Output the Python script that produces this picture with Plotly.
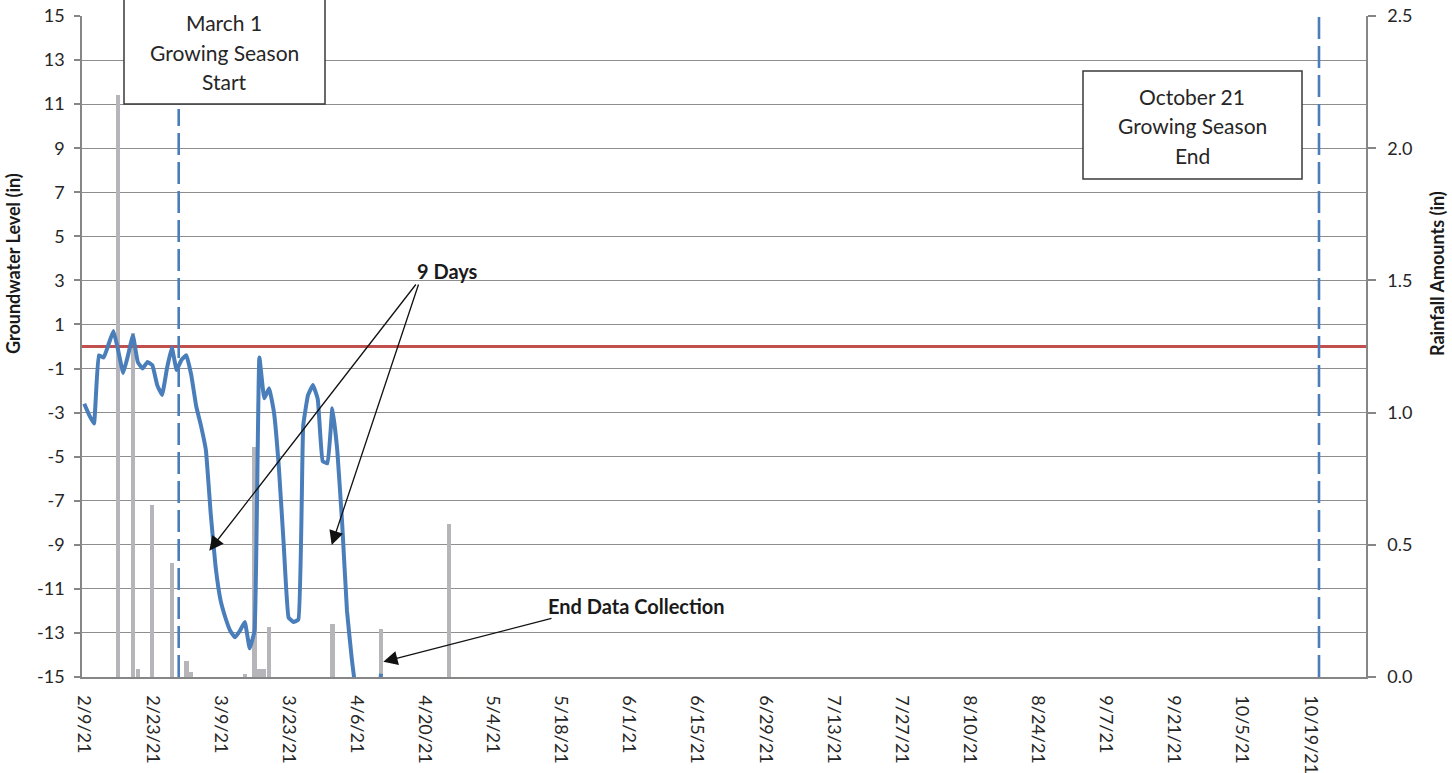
import pandas as pd
import plotly.graph_objects as go

# ---- Groundwater well readings (daily, inches relative to ground surface) ----
gw_start = "2021-02-09"
gw_level = [
    -2.6, -3.1, -3.5, -0.4, -0.5, 0.1, 0.7, -0.2, -1.2, -0.4,        # 2/9 - 2/18
    0.5, -0.7, -1.0, -0.7, -0.85, -1.75, -2.2, -1.0, -0.05, -1.07,   # 2/19 - 2/28
    -0.6, -0.4, -1.3, -2.7, -3.6, -4.7, -7.6, -10.0, -11.5, -12.3,   # 3/1 - 3/10
    -12.9, -13.2, -12.9, -12.5, -13.7, -12.9, -0.5, -2.35, -1.9, -3.0,  # 3/11 - 3/20
    -5.5, -9.0, -12.3, -12.5, -12.4, -3.6, -2.2, -1.75, -2.4, -5.2,  # 3/21 - 3/30
    -5.3, -2.8, -4.7, -8.0, -12.0, -14.2, -15.8, -16.5, -17.0, -17.2,  # 3/31 - 4/9
    -16.6, -14.85,                                                   # 4/10 - 4/11
]
gw_dates = pd.date_range(gw_start, periods=len(gw_level), freq="D")

# ---- Ground surface reference ----
surface_dates = ["2021-02-08 12:00", "2021-10-31"]
surface_level = [0.0, 0.0]

# ---- Daily rainfall totals (in) ----
rain_dates = [
    "2021-02-16", "2021-02-19", "2021-02-20", "2021-02-23", "2021-02-27",
    "2021-03-02", "2021-03-03", "2021-03-14", "2021-03-16", "2021-03-17",
    "2021-03-18", "2021-03-19", "2021-04-01", "2021-04-11", "2021-04-25",
]
rain_amount = [
    2.20, 1.30, 0.03, 0.65, 0.43,
    0.06, 0.02, 0.01, 0.87, 0.03,
    0.03, 0.19, 0.20, 0.18, 0.58,
]

# ---- Axis ticks ----
date_ticks = [
    "2021-02-09", "2021-02-23", "2021-03-09", "2021-03-23", "2021-04-06",
    "2021-04-20", "2021-05-04", "2021-05-18", "2021-06-01", "2021-06-15",
    "2021-06-29", "2021-07-13", "2021-07-27", "2021-08-10", "2021-08-24",
    "2021-09-07", "2021-09-21", "2021-10-05", "2021-10-19",
]
date_labels = [
    "2/9/21", "2/23/21", "3/9/21", "3/23/21", "4/6/21",
    "4/20/21", "5/4/21", "5/18/21", "6/1/21", "6/15/21",
    "6/29/21", "7/13/21", "7/27/21", "8/10/21", "8/24/21",
    "9/7/21", "9/21/21", "10/5/21", "10/19/21",
]
level_ticks = [-15, -13, -11, -9, -7, -5, -3, -1, 1, 3, 5, 7, 9, 11, 13, 15]
level_labels = ["-15", "-13", "-11", "-9", "-7", "-5", "-3", "-1",
                "1", "3", "5", "7", "9", "11", "13", "15"]
rain_ticks = [0.0, 0.5, 1.0, 1.5, 2.0, 2.5]
rain_labels = ["0.0", "0.5", "1.0", "1.5", "2.0", "2.5"]

FONT = "Lato"
TXT = "#262626"
AXIS = "#868686"
BLUE = "#4A7EBB"
W, H = 1452, 773
L, R, T, B = 82, 86, 16, 96
PW, PH = W - L - R, H - T - B


def px(x):
    return (x - L) / PW


def py(y):
    return (H - B - y) / PH


DAY_MS = 86400000

fig = go.Figure()

# rainfall bars sit on the base axis so the well trace draws over them
fig.add_trace(go.Bar(
    x=rain_dates, y=rain_amount, yaxis="y", width=0.88 * DAY_MS,
    marker=dict(color="#B5B5BA", line=dict(width=0)), name="Rainfall",
))
fig.add_trace(go.Scatter(
    x=surface_dates, y=surface_level, yaxis="y2", mode="lines",
    line=dict(color="#C0504D", width=3), name="Surface",
))
fig.add_trace(go.Scatter(
    x=gw_dates, y=gw_level, yaxis="y2", mode="lines",
    line=dict(color=BLUE, width=4, shape="spline", smoothing=0.3),
    name="Groundwater",
))

tickfont = dict(family=FONT, size=18, color=TXT)

fig.update_layout(
    width=W, height=H,
    margin=dict(l=L, r=R, t=T, b=B, pad=0),
    paper_bgcolor="white", plot_bgcolor="white",
    showlegend=False, template="none",
    bargap=0,
    xaxis=dict(
        type="date", range=["2021-02-08 13:00", "2021-10-30 10:00"],
        tickvals=date_ticks, ticktext=date_labels, tickangle=90,
        tickfont=tickfont, showgrid=False, zeroline=False,
        showline=True, linecolor=AXIS, linewidth=1.5,
        ticks="", ticklabelstandoff=13,
    ),
    yaxis=dict(
        side="right", range=[0, 2.5], tickvals=rain_ticks, ticktext=rain_labels,
        tickfont=tickfont, showgrid=False, zeroline=False,
        showline=True, linecolor=AXIS, linewidth=1.5,
        ticks="outside", ticklen=8, tickcolor=AXIS, tickwidth=1.5,
        ticklabelstandoff=8,
    ),
    yaxis2=dict(
        overlaying="y", side="left", range=[-15, 15],
        tickvals=level_ticks, ticktext=level_labels,
        tickfont=tickfont, showgrid=True, gridcolor="#8E8E8E", gridwidth=1.3,
        zeroline=False, showline=True, linecolor=AXIS, linewidth=1.5,
        ticks="outside", ticklen=6, tickcolor=AXIS, tickwidth=1.5,
        ticklabelstandoff=6,
    ),
)

shapes = []
# growing season start / end markers
shapes.append(dict(type="line", xref="paper", yref="paper",
                   x0=px(178.7), x1=px(178.7), y0=py(677), y1=py(109),
                   line=dict(color=BLUE, width=2.6, dash="22px,7px"), layer="above"))
shapes.append(dict(type="line", xref="paper", yref="paper",
                   x0=px(1319), x1=px(1319), y0=py(677), y1=py(12),
                   line=dict(color=BLUE, width=2.6, dash="22px,7px"), layer="above"))
# callout boxes
shapes.append(dict(type="rect", xref="paper", yref="paper",
                   x0=px(124), x1=px(325), y0=py(104), y1=py(-10),
                   line=dict(color="#3A3A3A", width=1.5), fillcolor="white", layer="above"))
shapes.append(dict(type="rect", xref="paper", yref="paper",
                   x0=px(1083), x1=px(1302), y0=py(179), y1=py(71),
                   line=dict(color="#3A3A3A", width=1.5), fillcolor="white", layer="above"))
fig.update_layout(shapes=shapes)

ann = []
box_font = dict(family=FONT, size=21, color=TXT)
for text, y in [("March 1", 23), ("Growing Season", 53), ("Start", 82)]:
    ann.append(dict(text=text, xref="paper", yref="paper", x=px(224), y=py(y),
                    showarrow=False, xanchor="center", yanchor="middle", font=box_font))
for text, y in [("October 21", 97), ("Growing Season", 126), ("End", 156)]:
    ann.append(dict(text=text, xref="paper", yref="paper", x=px(1192), y=py(y),
                    showarrow=False, xanchor="center", yanchor="middle", font=box_font))

bold = dict(family=FONT, size=20, color="#1A1A1A")
ann.append(dict(text="<b>9 Days</b>", xref="paper", yref="paper", x=px(447), y=py(271),
                showarrow=False, xanchor="center", yanchor="middle", font=bold))
ann.append(dict(text="<b>End Data Collection</b>", xref="paper", yref="paper",
                x=px(636), y=py(606), showarrow=False, xanchor="center",
                yanchor="middle", font=bold))

arrow = dict(showarrow=True, arrowhead=2, arrowsize=2.2, arrowwidth=1.3,
             arrowcolor="#111111", text="", xref="paper", yref="paper",
             axref="pixel", ayref="pixel", standoff=0)
for head, tail in [((209.3, 550.7), (417, 283)),
                   ((331.7, 545.0), (419, 283)),
                   ((383.3, 661.7), (553, 618))]:
    ann.append(dict(arrow, x=px(head[0]), y=py(head[1]),
                    ax=tail[0] - head[0], ay=tail[1] - head[1]))

# axis titles
title_font = dict(family=FONT, size=18, color="#1A1A1A")
ann.append(dict(text="<b>Groundwater Level (in)</b>", xref="paper", yref="paper",
                x=px(13), y=py(264), textangle=-90, showarrow=False,
                xanchor="center", yanchor="middle", font=title_font))
ann.append(dict(text="<b>Rainfall Amounts (in)</b>", xref="paper", yref="paper",
                x=px(1437), y=py(274), textangle=-90, showarrow=False,
                xanchor="center", yanchor="middle", font=title_font))

fig.update_layout(annotations=ann)

fig.write_html("out.html")
